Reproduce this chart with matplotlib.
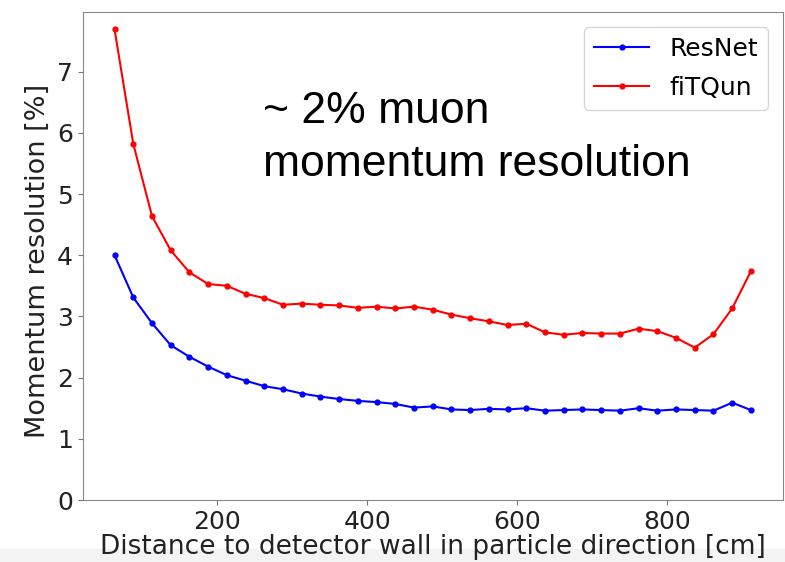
import matplotlib
matplotlib.use('Agg')
import matplotlib.pyplot as plt
from matplotlib.patches import Rectangle

# bin centres of distance to wall [cm]
distance = [62.5, 87.5, 112.5, 137.5, 162.5, 187.5, 212.5, 237.5, 262.5, 287.5,
            312.5, 337.5, 362.5, 387.5, 412.5, 437.5, 462.5, 487.5, 512.5, 537.5,
            562.5, 587.5, 612.5, 637.5, 662.5, 687.5, 712.5, 737.5, 762.5, 787.5,
            812.5, 837.5, 862.5, 887.5, 912.5]

resnet = [4.00, 3.31, 2.89, 2.53, 2.34, 2.18, 2.04, 1.95, 1.86, 1.81,
          1.74, 1.69, 1.65, 1.62, 1.60, 1.57, 1.51, 1.53, 1.48, 1.47,
          1.49, 1.48, 1.50, 1.46, 1.47, 1.48, 1.47, 1.46, 1.50, 1.46,
          1.48, 1.47, 1.46, 1.59, 1.47]

fitqun = [7.69, 5.82, 4.64, 4.08, 3.72, 3.53, 3.50, 3.37, 3.30, 3.19,
          3.21, 3.19, 3.18, 3.14, 3.16, 3.13, 3.16, 3.11, 3.03, 2.97,
          2.92, 2.86, 2.88, 2.74, 2.70, 2.73, 2.72, 2.72, 2.80, 2.76,
          2.65, 2.49, 2.71, 3.13, 3.74]

fig = plt.figure(figsize=(7.85, 5.62), dpi=100)
ax = fig.add_axes([0.1054, 0.1103, 0.8917, 0.8689])

# light grey strip at the bottom of the screenshot
fig.patches.append(Rectangle((0, 0), 1, 0.023, transform=fig.transFigure,
                             color='#f3f3f3', zorder=-1))

ax.plot(distance, resnet, 'b.-', lw=1.5, ms=7, label='ResNet')
ax.plot(distance, fitqun, 'r.-', lw=1.5, ms=7, label='fiTQun')

ax.set_ylim(0, 7.98)
ax.set_xticks([200, 400, 600, 800])
ax.set_yticks(range(8))
ax.tick_params(labelsize=18, color='#777777')
for s in ax.spines.values():
    s.set_color('#888888')

ax.set_xlabel('Distance to detector wall in particle direction [cm]',
              fontsize=19, color='#222222', labelpad=0)
ax.set_ylabel('Momentum resolution [%]', fontsize=19.5, color='#222222')
ax.yaxis.set_label_coords(-0.046, 0.49)
for lab in ax.get_xticklabels() + ax.get_yticklabels():
    lab.set_color('#222222')

ax.legend(loc='upper right', fontsize=18, handlelength=2.2, labelspacing=0.6,
          borderaxespad=0.6)

ax.text(0.2576, 0.772, '~ 2% muon', transform=ax.transAxes, va='baseline',
        fontsize=32, family='Liberation Sans')
ax.text(0.2576, 0.6635, 'momentum resolution', transform=ax.transAxes,
        va='baseline', fontsize=32, family='Liberation Sans')

fig.savefig('out.png', dpi=100)
